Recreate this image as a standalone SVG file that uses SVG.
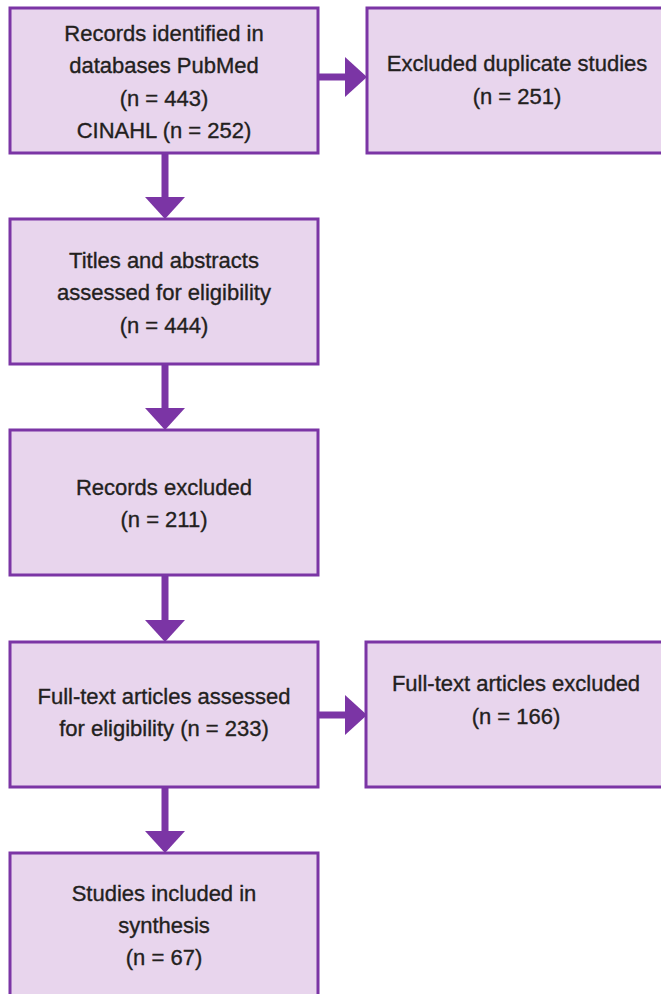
<svg xmlns="http://www.w3.org/2000/svg" width="661" height="994" viewBox="0 0 661 994">
<style>
.box{fill:#e8d5ed;stroke:#7b35a5;stroke-width:3}
.t{font-family:"Liberation Sans",Arial,sans-serif;font-size:22px;fill:#231f20;stroke:#231f20;stroke-width:0.35;text-anchor:middle}
.c{stroke:#7b35a5;stroke-width:7;fill:none}
</style>
<defs>
<marker id="ah" markerUnits="userSpaceOnUse" markerWidth="22" markerHeight="40" viewBox="0 0 22 40" refX="0" refY="20" orient="auto">
<path d="M0,0 L22,20 L0,40 z" fill="#7b35a5"/>
</marker>
</defs>
<rect width="661" height="994" fill="#ffffff"/>
<g id="connectors">
<line class="c" x1="165" y1="153" x2="165" y2="197" marker-end="url(#ah)"/>
<line class="c" x1="165" y1="364" x2="165" y2="408" marker-end="url(#ah)"/>
<line class="c" x1="165" y1="575" x2="165" y2="620" marker-end="url(#ah)"/>
<line class="c" x1="165" y1="787" x2="165" y2="831" marker-end="url(#ah)"/>
<line class="c" x1="318" y1="77" x2="345" y2="77" marker-end="url(#ah)"/>
<line class="c" x1="318" y1="715" x2="345" y2="715" marker-end="url(#ah)"/>
</g>
<g id="records">
<rect class="box" x="10" y="8" width="308" height="145"/>
<text class="t" x="164" y="41">Records identified in</text>
<text class="t" x="164" y="73">databases PubMed</text>
<text class="t" x="164" y="106">(n = 443)</text>
<text class="t" x="164" y="138">CINAHL (n = 252)</text>
</g>
<g id="duplicates">
<rect class="box" x="367" y="8" width="300" height="145"/>
<text class="t" x="517" y="71">Excluded duplicate studies</text>
<text class="t" x="517" y="104">(n = 251)</text>
</g>
<g id="screened">
<rect class="box" x="10" y="219" width="308" height="145"/>
<text class="t" x="164" y="268">Titles and abstracts</text>
<text class="t" x="164" y="300">assessed for eligibility</text>
<text class="t" x="164" y="333">(n = 444)</text>
</g>
<g id="excluded">
<rect class="box" x="10" y="430" width="308" height="145"/>
<text class="t" x="164" y="495">Records excluded</text>
<text class="t" x="164" y="527">(n = 211)</text>
</g>
<g id="fulltext">
<rect class="box" x="10" y="642" width="308" height="145"/>
<text class="t" x="164" y="704">Full-text articles assessed</text>
<text class="t" x="164" y="736">for eligibility (n = 233)</text>
</g>
<g id="fulltext-excluded">
<rect class="box" x="366" y="642" width="300" height="145"/>
<text class="t" x="516" y="691">Full-text articles excluded</text>
<text class="t" x="516" y="724">(n = 166)</text>
</g>
<g id="included">
<rect class="box" x="10" y="853" width="308" height="150"/>
<text class="t" x="164" y="901">Studies included in</text>
<text class="t" x="164" y="933">synthesis</text>
<text class="t" x="164" y="965">(n = 67)</text>
</g>
</svg>
